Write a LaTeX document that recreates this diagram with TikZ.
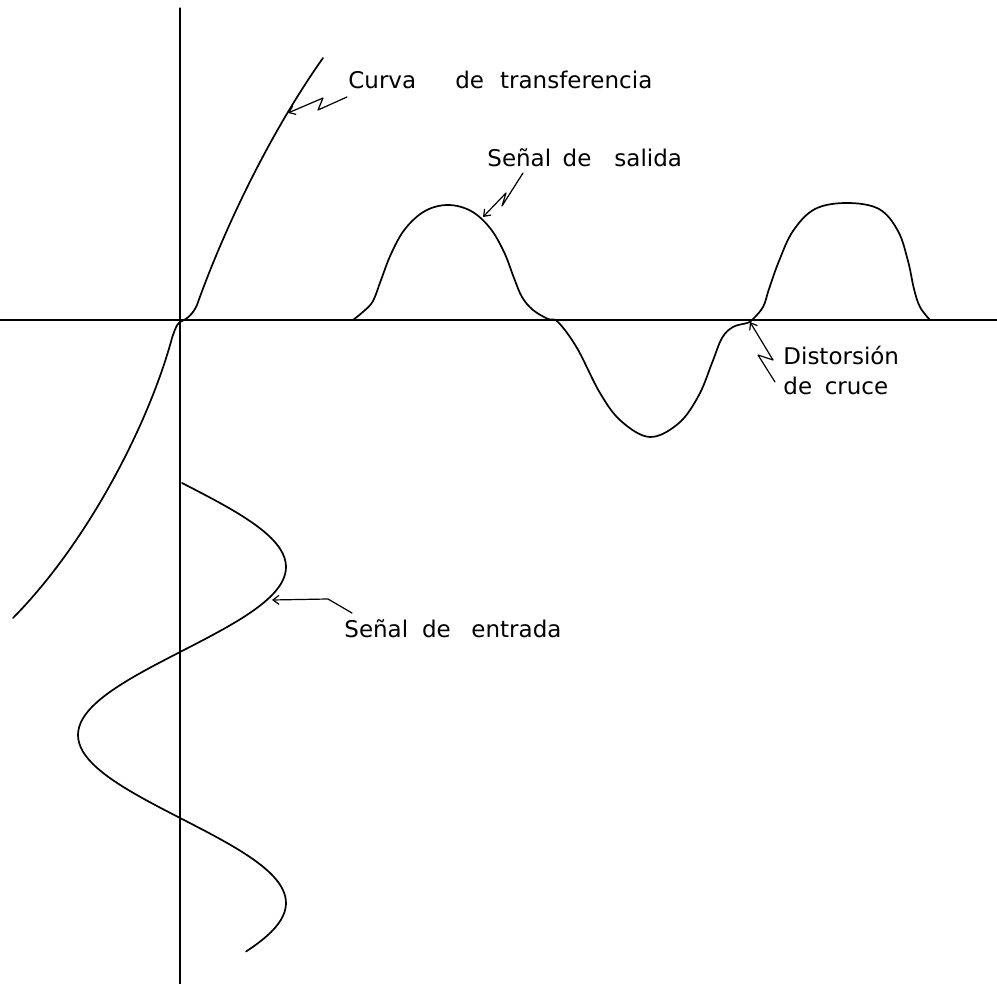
\documentclass[tikz,border=0pt]{standalone}
\usepackage{fontspec}
\setmainfont{DejaVu Sans}
\usetikzlibrary{arrows.meta}
\begin{document}
\begin{tikzpicture}[x = .5pt, y = -.5pt, line join = round, line cap = round,
    axis/.style = {line width = .65pt},
    curve/.style = {line width = .85pt},
    leader/.style = {line width = .6pt, -{Straight Barb[length = 3pt, width = 4.5pt]}},
    lbl/.style = {inner sep = 0pt, anchor = base west, align = left,
                  font = \fontsize{11.5}{16}\selectfont}]
  \useasboundingbox (0,0) rectangle (997,984);
  \draw [axis] (0,320) -- (997,320);
  \draw [axis] (180,8) -- (180,984);
  \draw [line width = 1.2pt] (548,320) -- (932,320);
  \draw [curve] (13,618) .. controls (90,540) and (150,420) .. (172,338)
    .. controls (176,326) and (178,322) .. (182,321)
    .. controls (187,319) and (193,314) .. (197,305)
    .. controls (220,240) and (265,140) .. (323,58);
  \draw [curve] plot [smooth, tension = .6] coordinates {
    (353,320) (364,311) (373,301) (381,280) (391,254) (405,229) (425,211)
    (448,205) (471,211) (490,228) (504,252) (514,278) (522,297) (533,310)
    (548,319) (558,322) (577,348) (600,393) (621,421) (650,437) (679,423)
    (699,395) (712,363) (722,338) (733,327) (747,323) (752,320) (763,307)
    (769,289) (779,261) (793,231) (815,209) (847,203) (879,209) (898,231)
    (908,261) (914,289) (920,307) (930,320)};
  \draw [curve] plot [smooth, domain = 0:502, samples = 120]
    ({182+104*sin(\x)}, {483+0.9333*\x});
  \node [lbl] (curva) at (348,89) {Curva\hspace{1.7em}de\hspace{.7em}transferencia};
  \node [lbl] (salida) at (487,167) {Señal\hspace{.5em}de\hspace{1em}salida};
  \node [lbl] (cruce) at (783,395) {Distorsión\\[-1pt]de\hspace{.55em}cruce};
  \node [lbl] (entrada) at (344,637) {Señal\hspace{.6em}de\hspace{.9em}entrada};
  \coordinate (curvafoot) at (347,97);
  \coordinate (curvatip) at (288,113);
  \coordinate (salidafoot) at (523,173);
  \coordinate (salidatip) at (483,217);
  \coordinate (crucefoot) at (775,382);
  \coordinate (crucetip) at (750,322);
  \coordinate (entradafoot) at (352,613);
  \coordinate (entradatip) at (272,600);
  \draw [leader] (curvafoot) -- (318,110) -- (323,98) -- (curvatip);
  \draw [leader] (salidafoot) -- (502,206) -- (506,193) -- (salidatip);
  \draw [leader] (crucefoot) -- (758,355) -- (773,360) -- (crucetip);
  \draw [leader] (entradafoot) -- (328,599) -- (entradatip);
\end{tikzpicture}
\end{document}
